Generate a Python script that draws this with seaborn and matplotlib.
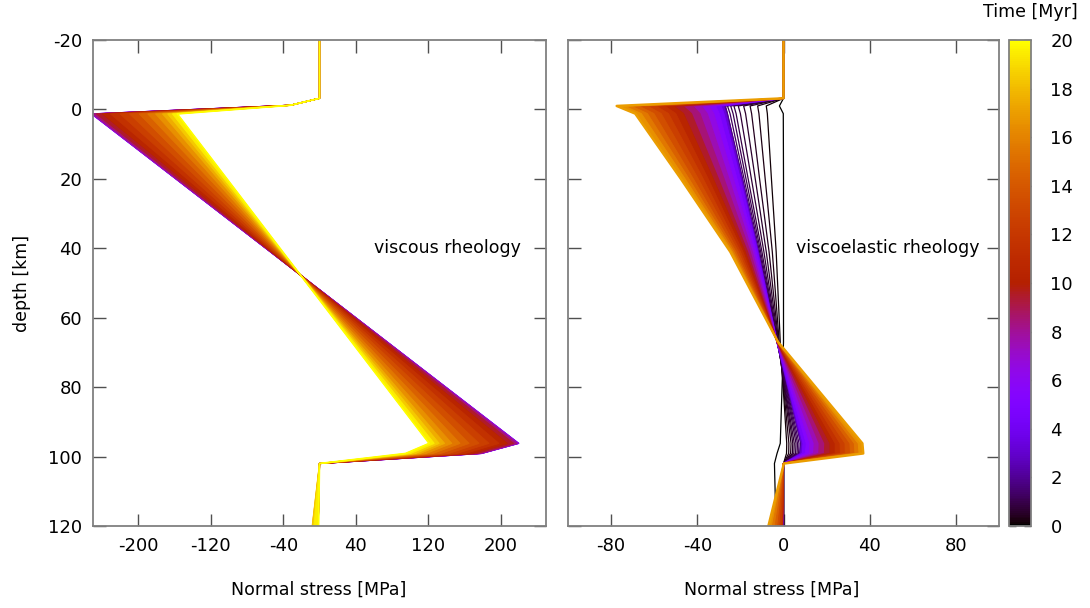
import numpy as np
import pandas as pd
import matplotlib
matplotlib.use("Agg")
import matplotlib.pyplot as plt
import seaborn as sns

# ---------------- data ----------------
# Left panel (viscous rheology): profile nodes (depth, km)
left_depth = [-20, -3.2, -1.2, 1.3, 96.2, 99.1, 102, 120]
left_times = [5, 6, 7, 8, 9, 10, 11, 12, 13, 14, 15, 16, 17, 18, 19, 20]
left_air = [0, 0, -32]            # stress at depths -20, -3.2, -1.2 (common)
left_top = [-251.6, -251.2, -250.7, -249.2, -245.9, -239.2, -230.6, -220.1,
            -209.5, -199.0, -189.4, -180.8, -173.2, -167.4, -162.2, -156.9]
left_peak = [220, 219.5, 219, 217.5, 214, 207, 198, 187,
             176, 165, 155, 146, 138, 132, 126.5, 121]
left_p99 = [179, 178.6, 178.2, 177, 174, 168, 160.5, 151.5,
            142.5, 133.5, 125, 117.5, 111, 106, 100.5, 95]
left_base = 0                      # stress at 102 km (common)
left_bottom = [-1.5, -1.5, -1.5, -1.5, -1.5, -1.5, -1.5, -1.5,
               -1.5, -1.5, -3, -5, -7, -8, -6, -1]

# Right panel (viscoelastic rheology)
right_depth = [-20, -3.2, -1.0, 1.2, 20, 41, 67, 96.2, 99.1, 102, 120]
right_times = [0, 0.15, 0.3, 0.45, 0.6, 0.75, 0.9, 1.05, 1.2, 1.4, 2.5,
               4, 5, 6, 7, 8, 9, 10, 11, 12, 13, 14, 15, 16, 17]
right_filled_from = 1.4
r_m1 = [-1.9, -8, -12, -15.5, -18.5, -21, -23, -24.5, -26, -27, -27.8, -29.0,
        -31.5, -34.6, -38.1, -42.1, -46.7, -51.2, -55.2, -59.3, -63.3, -67.3,
        -70.8, -74.1, -77.4]
r_1 = [-0.1, -7.5, -11.4, -14.8, -17.6, -20, -22, -23.4, -24.8, -26, -26.6,
       -27.7, -29.9, -32.4, -35.4, -38.8, -42.7, -46.5, -50.0, -53.4, -56.8,
       -60.2, -63.2, -66.0, -68.8]
r_20 = [0, -5.6, -8.5, -11.1, -13.1, -14.9, -16.4, -17.4, -18.3, -19, -19.4,
        -20.1, -21.6, -23.3, -25.3, -27.6, -30.2, -32.7, -35.0, -37.3, -39.6,
        -41.9, -43.9, -45.7, -47.6]
r_41 = [0, -3.4, -5.2, -6.7, -8.0, -9.1, -10.0, -10.6, -11.1, -11.6, -11.8,
        -12.1, -12.8, -13.6, -14.5, -15.5, -16.7, -17.9, -18.9, -20.0, -21.0,
        -22.1, -23.0, -23.8, -24.7]
r_67 = [0, -1.5, -2, -2.3, -2.5, -2.7, -2.8, -2.9, -3, -3, -3, -3, -3, -3,
        -3, -3, -3, -2.9, -2.9, -2.8, -2.8, -2.7, -2.6, -2.6, -2.5]
r_96 = [-1.5, 1.5, 2.5, 3.5, 4.3, 5, 5.8, 6.5, 7.2, 8, 8.4, 9.1, 10.6, 12.3,
        14.3, 16.6, 19.2, 21.7, 24.0, 26.3, 28.6, 30.9, 32.9, 34.7, 36.6]
r_99 = [-3.0, 1.4, 2.4, 3.3, 4.1, 4.8, 5.6, 6.3, 7.0, 7.5, 7.9, 8.7, 10.2,
        11.9, 14.0, 16.4, 19.0, 21.7, 24.0, 26.4, 28.7, 31.1, 33.2, 35.1, 37.0]
r_102 = [-4.2, 0, 0, 0, 0, 0, 0, 0, 0, 0, 0, 0, 0, 0, 0, 0, 0, 0, 0, 0, 0,
         0, 0, 0, 0.2]
r_120 = [-3.5, 0, 0, 0, 0, 0, 0, 0, 0, -0.3, -0.3, -0.5, -0.5, -0.5, -0.5,
         -0.5, -0.5, -0.5, -0.5, -1.2, -2.2, -3.2, -4.4, -5.7, -7.0]
r_air = [0, 0]                     # stress at depths -20, -3.2

left_xticks = [-200, -120, -40, 40, 120, 200]
right_xticks = [-80, -40, 0, 40, 80]
depth_ticks = [-20, 0, 20, 40, 60, 80, 100, 120]
cbar_ticks = [0, 2, 4, 6, 8, 10, 12, 14, 16, 18, 20]

# ---------------- build profile tables ----------------
rows = []
for i, t in enumerate(left_times):
    xs = left_air + [left_top[i], left_peak[i], left_p99[i], left_base, left_bottom[i]]
    for k, (x, d) in enumerate(zip(xs, left_depth)):
        rows.append(dict(panel="L", time=t, order=k, stress=x, depth=d))
for i, t in enumerate(right_times):
    xs = r_air + [r_m1[i], r_1[i], r_20[i], r_41[i], r_67[i], r_96[i], r_99[i],
                  r_102[i], r_120[i]]
    for k, (x, d) in enumerate(zip(xs, right_depth)):
        rows.append(dict(panel="R", time=t, order=k, stress=x, depth=d))
df = pd.DataFrame(rows)

# ---------------- style ----------------
sns.set_style("white")
plt.rcParams["font.family"] = ["DejaVu Sans"]
plt.rcParams["font.size"] = 13
plt.rcParams["text.color"] = "black"
plt.rcParams["axes.labelcolor"] = "black"
plt.rcParams["xtick.color"] = "black"
plt.rcParams["ytick.color"] = "black"

cmap = plt.get_cmap("gnuplot")
norm = matplotlib.colors.Normalize(0, 20)

W, H = 1090, 608
fig = plt.figure(figsize=(W / 100, H / 100), dpi=100)

def fpos(x0, x1, y0, y1):
    return [x0 / W, 1 - y1 / H, (x1 - x0) / W, (y1 - y0) / H]

axL = fig.add_axes(fpos(93, 546, 40, 526))
axR = fig.add_axes(fpos(568, 999, 40, 526))
cax = fig.add_axes(fpos(1009, 1031, 40, 526))


def draw_panel(ax, sub, fill_from, last_lw):
    times = sorted(sub["time"].unique())
    prev = None
    z = 3
    for j, t in enumerate(times):
        prof = sub[sub["time"] == t].sort_values("order")
        c = cmap(norm(t))
        if prev is not None and t > fill_from:
            tp, pprof = prev
            cm = cmap(norm(0.5 * (t + tp)))
            px = list(prof["stress"]) + list(pprof["stress"])[::-1]
            py = list(prof["depth"]) + list(pprof["depth"])[::-1]
            ax.fill(px, py, color=cm, lw=0.6, ec=cm, zorder=z)
        z += 1
        lw = last_lw if j == len(times) - 1 else 0.9
        sns.lineplot(data=prof, x="stress", y="depth", sort=False,
                     estimator=None, orient="y", color=c, lw=lw, ax=ax,
                     zorder=z)
        z += 1
        prev = (t, prof)


draw_panel(axL, df[df["panel"] == "L"], -1, 1.2)
draw_panel(axR, df[df["panel"] == "R"], right_filled_from, 1.8)

for ax, xl, xt in [(axL, (-250, 250), left_xticks), (axR, (-100, 100), right_xticks)]:
    ax.set_xlim(*xl)
    ax.set_ylim(120, -20)
    ax.set_xticks(xt)
    ax.set_yticks(depth_ticks)
    ax.set_xlabel("")
    ax.set_ylabel("")
    ax.tick_params(direction="in", length=9, width=1, color="#505050",
                   labelcolor="black", top=True, right=True, bottom=True,
                   left=True, labelsize=13, pad=8)
    for s in ax.spines.values():
        s.set_color("#808080")
        s.set_linewidth(1.3)
        s.set_zorder(200)
axR.tick_params(labelleft=False)
axL.set_xticklabels([str(v) for v in left_xticks])
axR.set_xticklabels([str(v) for v in right_xticks])
axL.set_yticklabels([str(v) for v in depth_ticks])

axL.text(222, 40, "viscous rheology", ha="right", va="center", fontsize=12.5,
         color="black", zorder=300)
axR.text(91, 40, "viscoelastic rheology", ha="right", va="center",
         fontsize=12.5, color="black", zorder=300)

fig.text(319 / W, 1 - 590 / H, "Normal stress [MPa]", ha="center",
         va="center", fontsize=12.5)
fig.text(772 / W, 1 - 590 / H, "Normal stress [MPa]", ha="center",
         va="center", fontsize=12.5)
fig.text(22 / W, 1 - 283 / H, "depth [km]", ha="center", va="center",
         rotation=90, fontsize=12.5)

sm = matplotlib.cm.ScalarMappable(norm=norm, cmap=cmap)
cb = fig.colorbar(sm, cax=cax, ticks=cbar_ticks)
cb.outline.set_edgecolor("#808080")
cb.outline.set_linewidth(1.3)
cax.tick_params(direction="in", length=5, width=1, color="#303030",
                labelcolor="black", left=True, right=True, labelsize=13,
                pad=14)
cax.set_yticklabels([str(v) for v in cbar_ticks])
fig.text(1030 / W, 1 - 12 / H, "Time [Myr]", ha="center", va="center",
         fontsize=12.5)

fig.savefig("out.png", dpi=100)
